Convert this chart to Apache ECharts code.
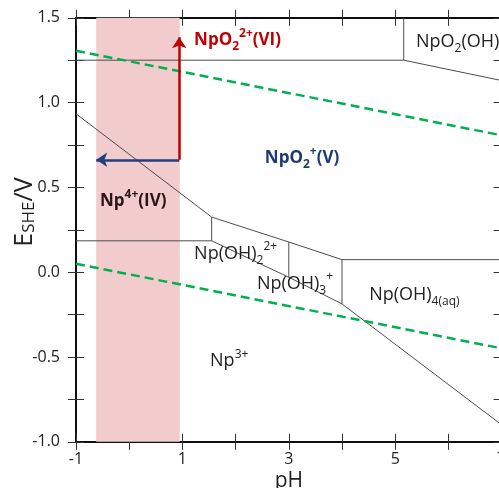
<!DOCTYPE html>
<html>
<head>
<meta charset="utf-8">
<script src="https://cdn.jsdelivr.net/npm/echarts@6/dist/echarts.min.js"></script>
<style>
  html, body { margin: 0; padding: 0; background: #fff; }
  #chart { width: 499px; height: 488px; }
</style>
</head>
<body>
<div id="chart"></div>
<script>
// Tick labels shown on the axes
var phLabels = [-1, 1, 3, 5, 7];
var eLabels = [-1.0, -0.5, 0.0, 0.5, 1.0, 1.5];

// Water stability limits (green dashed)
var waterUpper = [[-1, 1.306], [7, 0.807]];
var waterLower = [[-1, 0.050], [7, -0.449]];

// Predominance boundaries
var bndTop = [[-1, 1.25], [5.16, 1.25]];
var bndTopV = [[5.16, 1.25], [5.16, 1.5]];
var bndTopR = [[5.16, 1.25], [7, 1.13]];
var bndUpper = [[-1, 0.934], [1.55, 0.325], [3, 0.178], [4, 0.074], [7, 0.074]];
var bndMid = [[-1, 0.185], [1.55, 0.185]];
var bndLower = [[1.55, 0.185], [3, -0.03], [4, -0.187], [7, -0.9]];
var bndV1 = [[1.55, 0.185], [1.55, 0.325]];
var bndV2 = [[3, -0.03], [3, 0.178]];
var bndV3 = [[4, -0.187], [4, 0.074]];

// Shaded pH window
var band = [-0.62, 0.95];

// Arrows
var arrowUp = [[0.94, 0.663], [0.94, 1.385]];
var arrowLeft = [[0.94, 0.663], [-0.62, 0.663]];

// Region labels: [pH, E, text, style]
var regionLabels = [
  [1.22, 1.37, 'NpO{sb|2}{sp|2+}(VI)', 'red'],
  [5.39, 1.36, 'NpO{s|2}(OH)', 'plain'],
  [2.55, 0.673, 'NpO{sb|2}{sp|+}(V)', 'blue'],
  [-0.55, 0.417, 'Np{sp|4+}(IV)', 'dark'],
  [1.22, 0.107, 'Np(OH){s|2}{p|2+}', 'plain'],
  [2.40, -0.07, 'Np(OH){s|3}{p|+}', 'plain'],
  [4.51, -0.133, 'Np(OH){s|4(aq)}', 'plain'],
  [1.52, -0.525, 'Np{p|3+}', 'plain']
];

var labelColors = { red: '#c00000', blue: '#1f3a70', dark: '#2e1515', plain: '#222' };

function boundary(data) {
  return {
    type: 'line', data: data, symbol: 'none', silent: true, z: 3,
    lineStyle: { color: '#4d4d4d', width: 1, opacity: 1 }
  };
}

function richFor(style) {
  var c = labelColors[style];
  if (style === 'plain') {
    return {
      s: { fontSize: 12, color: c, verticalAlign: 'bottom', fontFamily: 'Open Sans' },
      p: { fontSize: 12, color: c, verticalAlign: 'top', fontFamily: 'Open Sans' }
    };
  }
  return {
    sb: { fontSize: 12, fontWeight: 'bold', color: c, verticalAlign: 'bottom', fontFamily: 'Open Sans' },
    sp: { fontSize: 12, fontWeight: 'bold', color: c, verticalAlign: 'top', fontFamily: 'Open Sans' }
  };
}

var labelData = regionLabels.map(function (r) {
  var bold = r[3] !== 'plain';
  return {
    value: [r[0], r[1]],
    label: {
      show: true,
      position: [0, 0],
      align: 'left',
      verticalAlign: 'middle',
      formatter: r[2],
      fontFamily: 'Open Sans',
      fontSize: bold ? 17 : 18,
      fontWeight: bold ? 'bold' : 'normal',
      lineHeight: bold ? 25 : 26,
      color: labelColors[r[3]],
      opacity: 1,
      rich: richFor(r[3])
    }
  };
});

function xAx(pos, inside, labels) {
  return {
    type: 'value', position: pos, min: -1, max: 7, interval: 1,
    axisLine: { show: true, onZero: false, lineStyle: { color: '#000', width: 1.5 } },
    axisTick: { show: true, inside: inside, length: 8, lineStyle: { color: '#333', width: 1 } },
    axisLabel: {
      show: labels, margin: 10, color: '#222', fontSize: 16, fontFamily: 'Open Sans',
      formatter: function (v) { return phLabels.indexOf(v) >= 0 ? String(v) : ''; }
    },
    splitLine: { show: false }
  };
}

function yAx(pos, inside, labels) {
  return {
    type: 'value', position: pos, min: -1, max: 1.5, interval: 0.25,
    axisLine: { show: true, onZero: false, lineStyle: { color: '#000', width: 1.5 } },
    axisTick: { show: true, inside: inside, length: 8, lineStyle: { color: '#333', width: 1 } },
    axisLabel: {
      show: labels, margin: 16, color: '#222', fontSize: 16, fontFamily: 'Open Sans',
      formatter: function (v) {
        for (var i = 0; i < eLabels.length; i++) {
          if (Math.abs(eLabels[i] - v) < 1e-6) return v.toFixed(1);
        }
        return '';
      }
    },
    splitLine: { show: false }
  };
}

var x0 = xAx('bottom', false, true);
x0.name = 'pH';
x0.nameLocation = 'middle';
x0.nameGap = 29;
x0.nameMoveOverlap = false;
x0.nameTextStyle = { fontSize: 21, color: '#222', fontFamily: 'Open Sans', verticalAlign: 'top' };

var chart = echarts.init(document.getElementById('chart'), null, { renderer: 'canvas' });

chart.setOption({
  animation: false,
  backgroundColor: '#fff',
  grid: { left: 76, top: 17.8, width: 425.6, height: 424, outerBoundsMode: 'none', containLabel: false },
  xAxis: [x0, xAx('bottom', true, false), xAx('top', false, false), xAx('top', true, false)],
  yAxis: [yAx('left', false, true), yAx('left', true, false), yAx('right', false, false), yAx('right', true, false)],
  graphic: [{
    type: 'text', x: 25, y: 212, rotation: Math.PI / 2, z: 10,
    style: {
      text: 'E{s|SHE}/V', align: 'center', verticalAlign: 'middle',
      fontFamily: 'Open Sans', fontSize: 25, fill: '#222',
      rich: { s: { fontSize: 17, fontFamily: 'Open Sans', fill: '#222', verticalAlign: 'bottom' } }
    }
  }],
  series: [
    {
      type: 'line', data: [], silent: true, z: 1,
      markArea: {
        silent: true,
        itemStyle: { color: '#f2cbcc', opacity: 1 },
        data: [[{ xAxis: band[0] }, { xAxis: band[1] }]]
      }
    },
    boundary(bndTop), boundary(bndTopV), boundary(bndTopR),
    boundary(bndUpper), boundary(bndMid), boundary(bndLower),
    boundary(bndV1), boundary(bndV2), boundary(bndV3),
    {
      type: 'line', data: waterUpper, symbol: 'none', silent: true, z: 4,
      lineStyle: { color: '#00b050', width: 2.5, type: [9, 5] }
    },
    {
      type: 'line', data: waterLower, symbol: 'none', silent: true, z: 4,
      lineStyle: { color: '#00b050', width: 2.5, type: [9, 5] }
    },
    {
      type: 'lines', coordinateSystem: 'cartesian2d', silent: true, z: 5,
      symbol: ['none', 'arrow'], symbolSize: 11,
      data: [
        { coords: arrowUp, lineStyle: { color: '#c00000', width: 2.5, opacity: 1 } },
        { coords: arrowLeft, lineStyle: { color: '#1f3f7f', width: 2.5, opacity: 1 } }
      ]
    },
    {
      type: 'scatter', symbolSize: 0, silent: true, z: 6, data: labelData,
      itemStyle: { opacity: 1 }
    }
  ]
});
</script>
</body>
</html>
